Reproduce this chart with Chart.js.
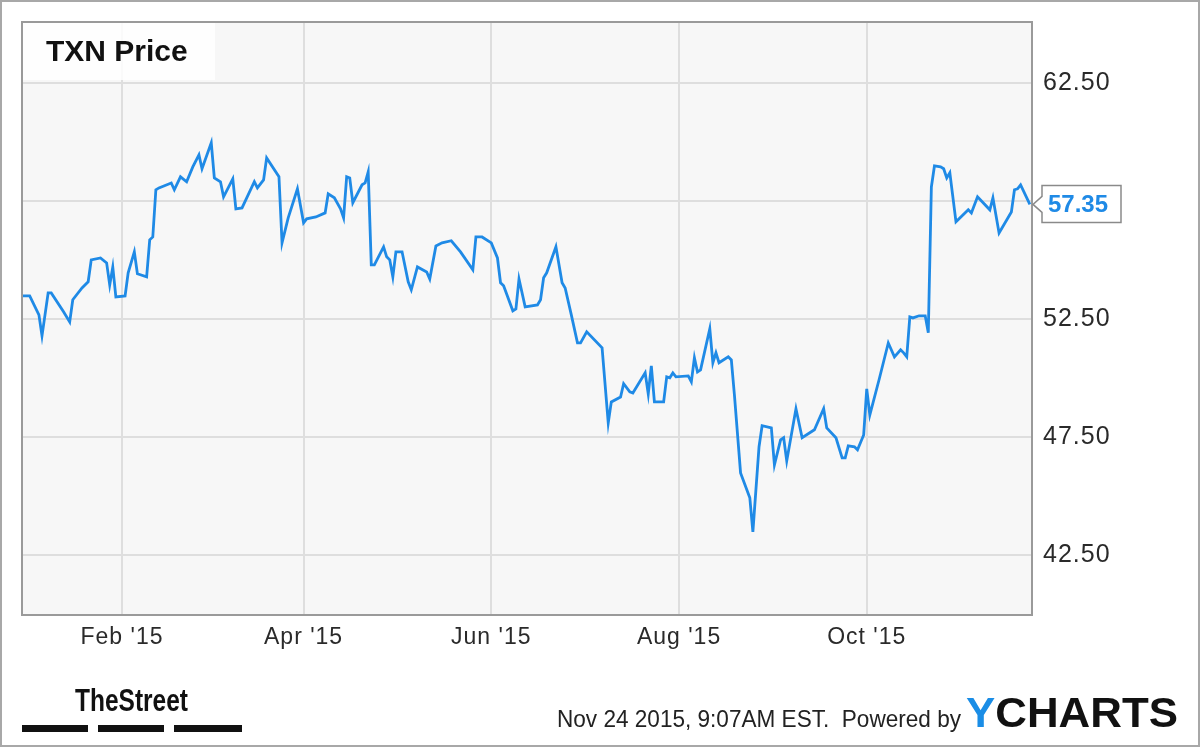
<!DOCTYPE html>
<html>
<head>
<meta charset="utf-8">
<script src="https://cdn.jsdelivr.net/npm/chart.js@4.4.0/dist/chart.umd.min.js"></script>
<style>
  body { margin: 0; background: #fff; }
  #wrap { width: 1200px; height: 747px; }
</style>
</head>
<body>
<div id="wrap"><canvas id="chart" width="1200" height="747"></canvas></div>
<script>
// trading days as day-of-year 2015 (0 = Jan 1), closing price
const days = [
  -2, 1, 4, 5, 7, 8, 12, 14, 15, 18, 20, 21, 24, 26, 27, 28, 29, 32, 33, 35,
  36, 39, 40, 41, 42, 43, 47, 48, 50, 52, 54, 56, 57, 60, 61, 63, 64, 67, 68, 70,
  74, 75, 77, 78, 82, 83, 85, 88, 90, 91, 94, 97, 98, 100, 102, 103, 104, 105, 106, 109,
  110, 111, 112, 113, 116, 117, 118, 119, 120, 122, 124, 125, 127, 130, 131, 133, 135, 138, 141, 145,
  146, 148, 151, 153, 154, 155, 158, 159, 160, 162, 166, 167, 168, 169, 172, 174, 175, 177, 179, 180,
  182, 187, 189, 190, 193, 194, 196, 197, 201, 202, 203, 204, 207, 208, 209, 210, 211, 215, 216, 217,
  218, 219, 222, 223, 224, 225, 228, 229, 230, 232, 235, 236, 238, 239, 242, 243, 245, 246, 247, 250,
  252, 256, 259, 260, 263, 265, 266, 267, 269, 270, 272, 273, 274, 277, 280, 282, 284, 285, 286, 287,
  288, 290, 292, 293, 294, 295, 297, 298, 299, 300, 302, 306, 307, 309, 313, 314, 316, 320, 321, 322,
  323, 326
];
const prices = [
  53.47, 53.47, 52.67, 51.78, 53.60, 53.60, 52.80, 52.37, 53.31, 53.81, 54.07, 55.00, 55.08, 54.87, 53.94, 54.70, 53.43, 53.47, 54.45, 55.34,
  54.41, 54.28, 55.85, 55.97, 57.97, 58.05, 58.26, 57.97, 58.52, 58.31, 58.94, 59.45, 58.86, 59.96, 58.47, 58.31, 57.67, 58.43, 57.16, 57.20,
  58.31, 58.05, 58.39, 59.32, 58.52, 55.72, 56.78, 58.01, 56.57, 56.74, 56.82, 56.99, 57.80, 57.63, 57.16, 56.78, 58.52, 58.47, 57.42, 58.18,
  58.26, 58.73, 54.79, 54.79, 55.55, 55.13, 55.00, 54.28, 55.34, 55.34, 54.07, 53.73, 54.70, 54.49, 54.19, 55.59, 55.72, 55.81, 55.34, 54.58,
  55.97, 55.97, 55.72, 55.08, 54.03, 53.90, 52.84, 52.92, 54.19, 53.01, 53.09, 53.31, 54.24, 54.45, 55.55, 54.03, 53.81, 52.67, 51.48, 51.48,
  51.95, 51.27, 48.09, 48.98, 49.19, 49.75, 49.41, 49.36, 50.21, 49.32, 50.51, 48.98, 48.98, 50.04, 50.00, 50.21, 50.04, 50.08, 49.83, 50.85,
  50.25, 50.34, 52.08, 50.64, 51.06, 50.64, 50.89, 50.76, 49.28, 45.97, 44.92, 43.47, 47.08, 47.97, 47.88, 46.31, 47.37, 47.46, 46.48, 48.69,
  47.46, 47.80, 48.69, 47.88, 47.46, 46.61, 46.61, 47.12, 47.08, 46.95, 47.58, 49.53, 48.43, 49.92, 51.48, 50.89, 51.19, 51.06, 50.89, 52.58,
  52.54, 52.63, 52.63, 51.91, 58.09, 58.98, 58.94, 58.86, 58.47, 58.69, 56.61, 57.12, 56.99, 57.67, 57.12, 57.63, 56.14, 57.03, 57.97, 58.01,
  58.18, 57.35
];

const monthTickDays = [31, 90, 151, 212, 273];
const monthTickLabels = ["Feb '15", "Apr '15", "Jun '15", "Aug '15", "Oct '15"];
const priceTicks = [42.5, 47.5, 52.5, 57.5, 62.5];

const titleText = 'TXN Price';
const footerText = 'Nov 24 2015, 9:07AM EST.  Powered by';

const LINE_BLUE = '#1f8ae6';
const FONT = '"Liberation Sans", Arial, sans-serif';

function fitText(ctx, text, x, y, width) {
  const w = ctx.measureText(text).width;
  ctx.save();
  ctx.translate(x, y);
  ctx.scale(width / w, 1);
  ctx.fillText(text, 0, 0);
  ctx.restore();
}

const decor = {
  id: 'decor',
  beforeDraw(chart) {
    const { ctx, chartArea: a } = chart;
    ctx.save();
    ctx.fillStyle = '#ffffff';
    ctx.fillRect(0, 0, chart.width, chart.height);
    ctx.fillStyle = '#f7f7f7';
    ctx.fillRect(a.left, a.top, a.right - a.left, a.bottom - a.top);
    ctx.restore();
    // the axis labels in the original are drawn slightly spaced out
    ctx.letterSpacing = '1px';
  },
  afterDraw(chart) {
    const { ctx, chartArea: a } = chart;
    ctx.letterSpacing = '0px';
    ctx.save();

    // plot frame
    ctx.strokeStyle = '#9a9a9a';
    ctx.lineWidth = 2;
    ctx.strokeRect(a.left, a.top, a.right - a.left, a.bottom - a.top);

    // outer frame
    ctx.strokeStyle = '#a8a8a8';
    ctx.strokeRect(1, 1, chart.width - 2, chart.height - 2);

    // title box
    ctx.fillStyle = 'rgba(255,255,255,0.85)';
    ctx.fillRect(a.left + 1, a.top + 1, 192, 57);
    ctx.fillStyle = '#111';
    ctx.font = 'bold 30px ' + FONT;
    ctx.textBaseline = 'alphabetic';
    ctx.fillText(titleText, 46, 61);

    // last value callout
    const last = prices[prices.length - 1];
    const py = chart.scales.y.getPixelForValue(last);
    const bx = a.right + 10;
    ctx.beginPath();
    ctx.moveTo(bx, py - 19);
    ctx.lineTo(bx + 79, py - 19);
    ctx.lineTo(bx + 79, py + 18);
    ctx.lineTo(bx, py + 18);
    ctx.lineTo(bx, py + 8);
    ctx.lineTo(a.right + 1, py);
    ctx.lineTo(bx, py - 8);
    ctx.closePath();
    ctx.fillStyle = '#fff';
    ctx.fill();
    ctx.strokeStyle = '#8a8a8a';
    ctx.lineWidth = 1.5;
    ctx.stroke();
    ctx.fillStyle = LINE_BLUE;
    ctx.font = 'bold 24px ' + FONT;
    ctx.textBaseline = 'middle';
    ctx.fillText(last.toFixed(2), bx + 6, py + 1);

    // footer: TheStreet
    ctx.textBaseline = 'alphabetic';
    ctx.fillStyle = '#111';
    ctx.font = 'bold 32px "Liberation Sans Narrow", ' + FONT;
    fitText(ctx, 'TheStreet', 75, 711, 113);
    ctx.fillRect(22, 725, 66, 7);
    ctx.fillRect(98, 725, 66, 7);
    ctx.fillRect(174, 725, 68, 7);

    // footer: timestamp + ycharts
    ctx.fillStyle = '#222';
    ctx.font = '24px "Liberation Sans Narrow", ' + FONT;
    fitText(ctx, footerText, 557, 727, 404);
    ctx.font = 'bold 42px ' + FONT;
    const yw = ctx.measureText('Y').width;
    const restW = ctx.measureText('CHARTS').width;
    const sx = 212 / (yw + restW);
    ctx.save();
    ctx.translate(966, 727);
    ctx.scale(sx, 1);
    ctx.fillStyle = '#1a8de6';
    ctx.fillText('Y', 0, 0);
    ctx.fillStyle = '#111';
    ctx.fillText('CHARTS', yw, 0);
    ctx.restore();

    ctx.restore();
  }
};

const ctx = document.getElementById('chart').getContext('2d');
new Chart(ctx, {
  type: 'line',
  data: {
    datasets: [{
      label: 'TXN Price',
      data: days.map((d, i) => ({ x: d, y: prices[i] })),
      borderColor: LINE_BLUE,
      borderWidth: 2.8,
      pointRadius: 0,
      tension: 0,
      fill: false
    }]
  },
  options: {
    responsive: false,
    animation: false,
    layout: { padding: { left: 22, top: 22, right: 0, bottom: 0 } },
    plugins: {
      legend: { display: false },
      tooltip: { enabled: false }
    },
    scales: {
      x: {
        type: 'linear',
        min: -1.5,
        max: 326.7,
        afterFit: s => { s.height = 132; s.paddingLeft = 0; s.paddingRight = 0; },
        afterBuildTicks: s => { s.ticks = monthTickDays.map(v => ({ value: v })); },
        ticks: {
          color: '#2a2a2a',
          font: { family: FONT, size: 23 },
          padding: 9,
          maxRotation: 0,
          autoSkip: false,
          callback: (v) => monthTickLabels[monthTickDays.indexOf(v)]
        },
        grid: { color: '#dedede', lineWidth: 2, drawTicks: false },
        border: { display: false }
      },
      y: {
        position: 'right',
        min: 39.95,
        max: 65.08,
        afterFit: s => { s.width = 168; s.paddingTop = 0; s.paddingBottom = 0; },
        afterBuildTicks: s => { s.ticks = priceTicks.map(v => ({ value: v })); },
        ticks: {
          color: '#2a2a2a',
          font: { family: FONT, size: 25 },
          padding: 11,
          callback: v => v.toFixed(2)
        },
        grid: { color: '#dedede', lineWidth: 2, drawTicks: false },
        border: { display: false }
      }
    }
  },
  plugins: [decor]
});
</script>
</body>
</html>
